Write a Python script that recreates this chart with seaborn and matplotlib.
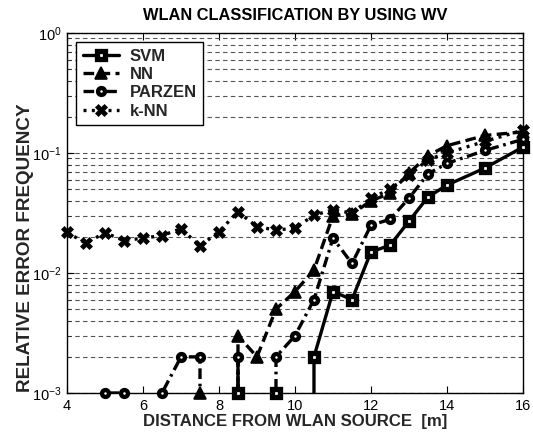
import numpy as np
import pandas as pd
import matplotlib
matplotlib.use("Agg")
import matplotlib.pyplot as plt
from matplotlib.lines import Line2D
from matplotlib.ticker import LogLocator, FixedLocator
import seaborn as sns

# ---- data ----
distance = [4, 4.5, 5, 5.5, 6, 6.5, 7, 7.5, 8, 8.5, 9, 9.5, 10, 10.5,
            11, 11.5, 12, 12.5, 13, 13.5, 14, 15, 16]
svm = [0, 0, 0, 0, 0, 0, 0, 0, 0, 0.001, 0, 0.001, 0, 0.002,
       0.007, 0.006, 0.015, 0.017, 0.027, 0.043, 0.054, 0.075, 0.112]
nn = [0, 0, 0, 0, 0, 0, 0, 0.001, 0, 0.003, 0.002, 0.005, 0.007, 0.0106,
      0.030, 0.031, 0.040, 0.046, 0.068, 0.095, 0.115, 0.140, 0.150]
parzen = [0, 0, 0.001, 0.001, 0, 0.001, 0.002, 0.002, 0, 0.002, 0, 0.002, 0.003, 0.006,
          0.0195, 0.012, 0.025, 0.028, 0.042, 0.067, 0.082, 0.105, 0.130]
knn = [0.0218, 0.0177, 0.0217, 0.0186, 0.0195, 0.0205, 0.0234, 0.0168, 0.0221, 0.0324,
       0.0243, 0.0228, 0.0236, 0.0304, 0.0335, 0.0316, 0.042, 0.050, 0.065, 0.088,
       0.100, 0.125, 0.155]
series_names = ["SVM", "NN", "PARZEN", "k-NN"]
x_ticks = [4, 6, 8, 10, 12, 14, 16]

series = {"SVM": svm, "NN": nn, "PARZEN": parzen, "k-NN": knn}
df = pd.concat([pd.DataFrame({"distance": distance, "freq": series[n], "method": n})
                for n in series_names], ignore_index=True)

styles = {
    "SVM":    dict(ls="-",  marker="s", ms=5.4, mfc="white", mew=3.8, lw=2.4),
    "NN":     dict(ls=(0, (3.2, 1.6)), marker="^", ms=8, mfc="black", mew=1.2, lw=2.4),
    "PARZEN": dict(ls=(0, (3.2, 1.4, 0.8, 1.4)), marker="o", ms=5.0, mfc="white", mew=3.1, lw=2.4),
    "k-NN":   dict(ls=(0, (0.9, 1.6)), marker="X", ms=8, mfc="black", mew=0.5, lw=2.4),
}

sns.set_style("ticks")
plt.rcParams["font.family"] = ["Liberation Sans", "DejaVu Sans"]

fig = plt.figure(figsize=(5.33, 4.34), dpi=100)
ax = fig.add_axes([0.1257, 0.0945, 0.8555, 0.8295])

# lines (clipped, zero values drop to the bottom like the original)
for name in series_names:
    st = styles[name]
    sub = df[df.method == name]
    sns.lineplot(data=sub, x="distance", y="freq", ax=ax, color="black",
                 lw=st["lw"], estimator=None, sort=False, legend=False)
    ax.lines[-1].set_linestyle(st["ls"])
    ax.lines[-1].set_dash_capstyle("butt")

# markers (unclipped, only non-zero values)
for name in series_names:
    st = styles[name]
    sub = df[(df.method == name) & (df.freq > 0)]
    ax.plot(sub.distance, sub.freq, ls="none", marker=st["marker"], ms=st["ms"],
            mfc=st["mfc"], mec="black", mew=st["mew"], clip_on=False, zorder=5)

ax.set_yscale("log", nonpositive="clip")
ax.set_xlim(4, 16)
ax.set_ylim(1e-3, 1)
ax.xaxis.set_major_locator(FixedLocator(x_ticks))
ax.yaxis.set_major_locator(LogLocator(base=10, numticks=10))
ax.yaxis.set_minor_locator(LogLocator(base=10, subs=np.arange(2, 10), numticks=10))

ax.grid(False)
ax.yaxis.grid(True, which="both", color="#555555", ls=(0, (4, 3)), lw=0.8)
ax.xaxis.grid(False)
ax.set_axisbelow(True)

for sp in ax.spines.values():
    sp.set_visible(True)
    sp.set_color("black")
    sp.set_linewidth(1.0)

ax.tick_params(axis="both", which="major", direction="in", length=5, width=0.8,
               top=True, right=True, labelsize=10.5, pad=4, colors="black")
ax.tick_params(axis="y", which="minor", direction="in", length=3, width=0.6, right=True)
ax.tick_params(axis="x", which="minor", bottom=False, top=False)

ax.set_title("WLAN CLASSIFICATION BY USING WV", fontsize=11.8, fontweight="bold",
             pad=9, color="black")
ax.set_xlabel("DISTANCE FROM WLAN SOURCE  [m]", fontsize=12.1, fontweight="bold", labelpad=1)
ax.set_ylabel("RELATIVE ERROR FREQUENCY", fontsize=13.6, fontweight="bold")
ax.yaxis.set_label_coords(-0.072, 0.403)

handles = []
for name in series_names:
    st = styles[name]
    handles.append(Line2D([], [], color="black", ls=st["ls"], lw=st["lw"],
                          marker=st["marker"], ms=st["ms"], mfc=st["mfc"],
                          mec="black", mew=st["mew"]))
leg = ax.legend(handles, series_names, loc="upper left", bbox_to_anchor=(0.02, 0.975),
                frameon=True, fancybox=False, framealpha=1, edgecolor="black",
                prop={"weight": "bold", "size": 12}, handlelength=2.2,
                handletextpad=0.6, labelspacing=0.2, borderpad=0.4, borderaxespad=0)
leg.get_frame().set_linewidth(1.0)

fig.savefig("out.png", dpi=100)
